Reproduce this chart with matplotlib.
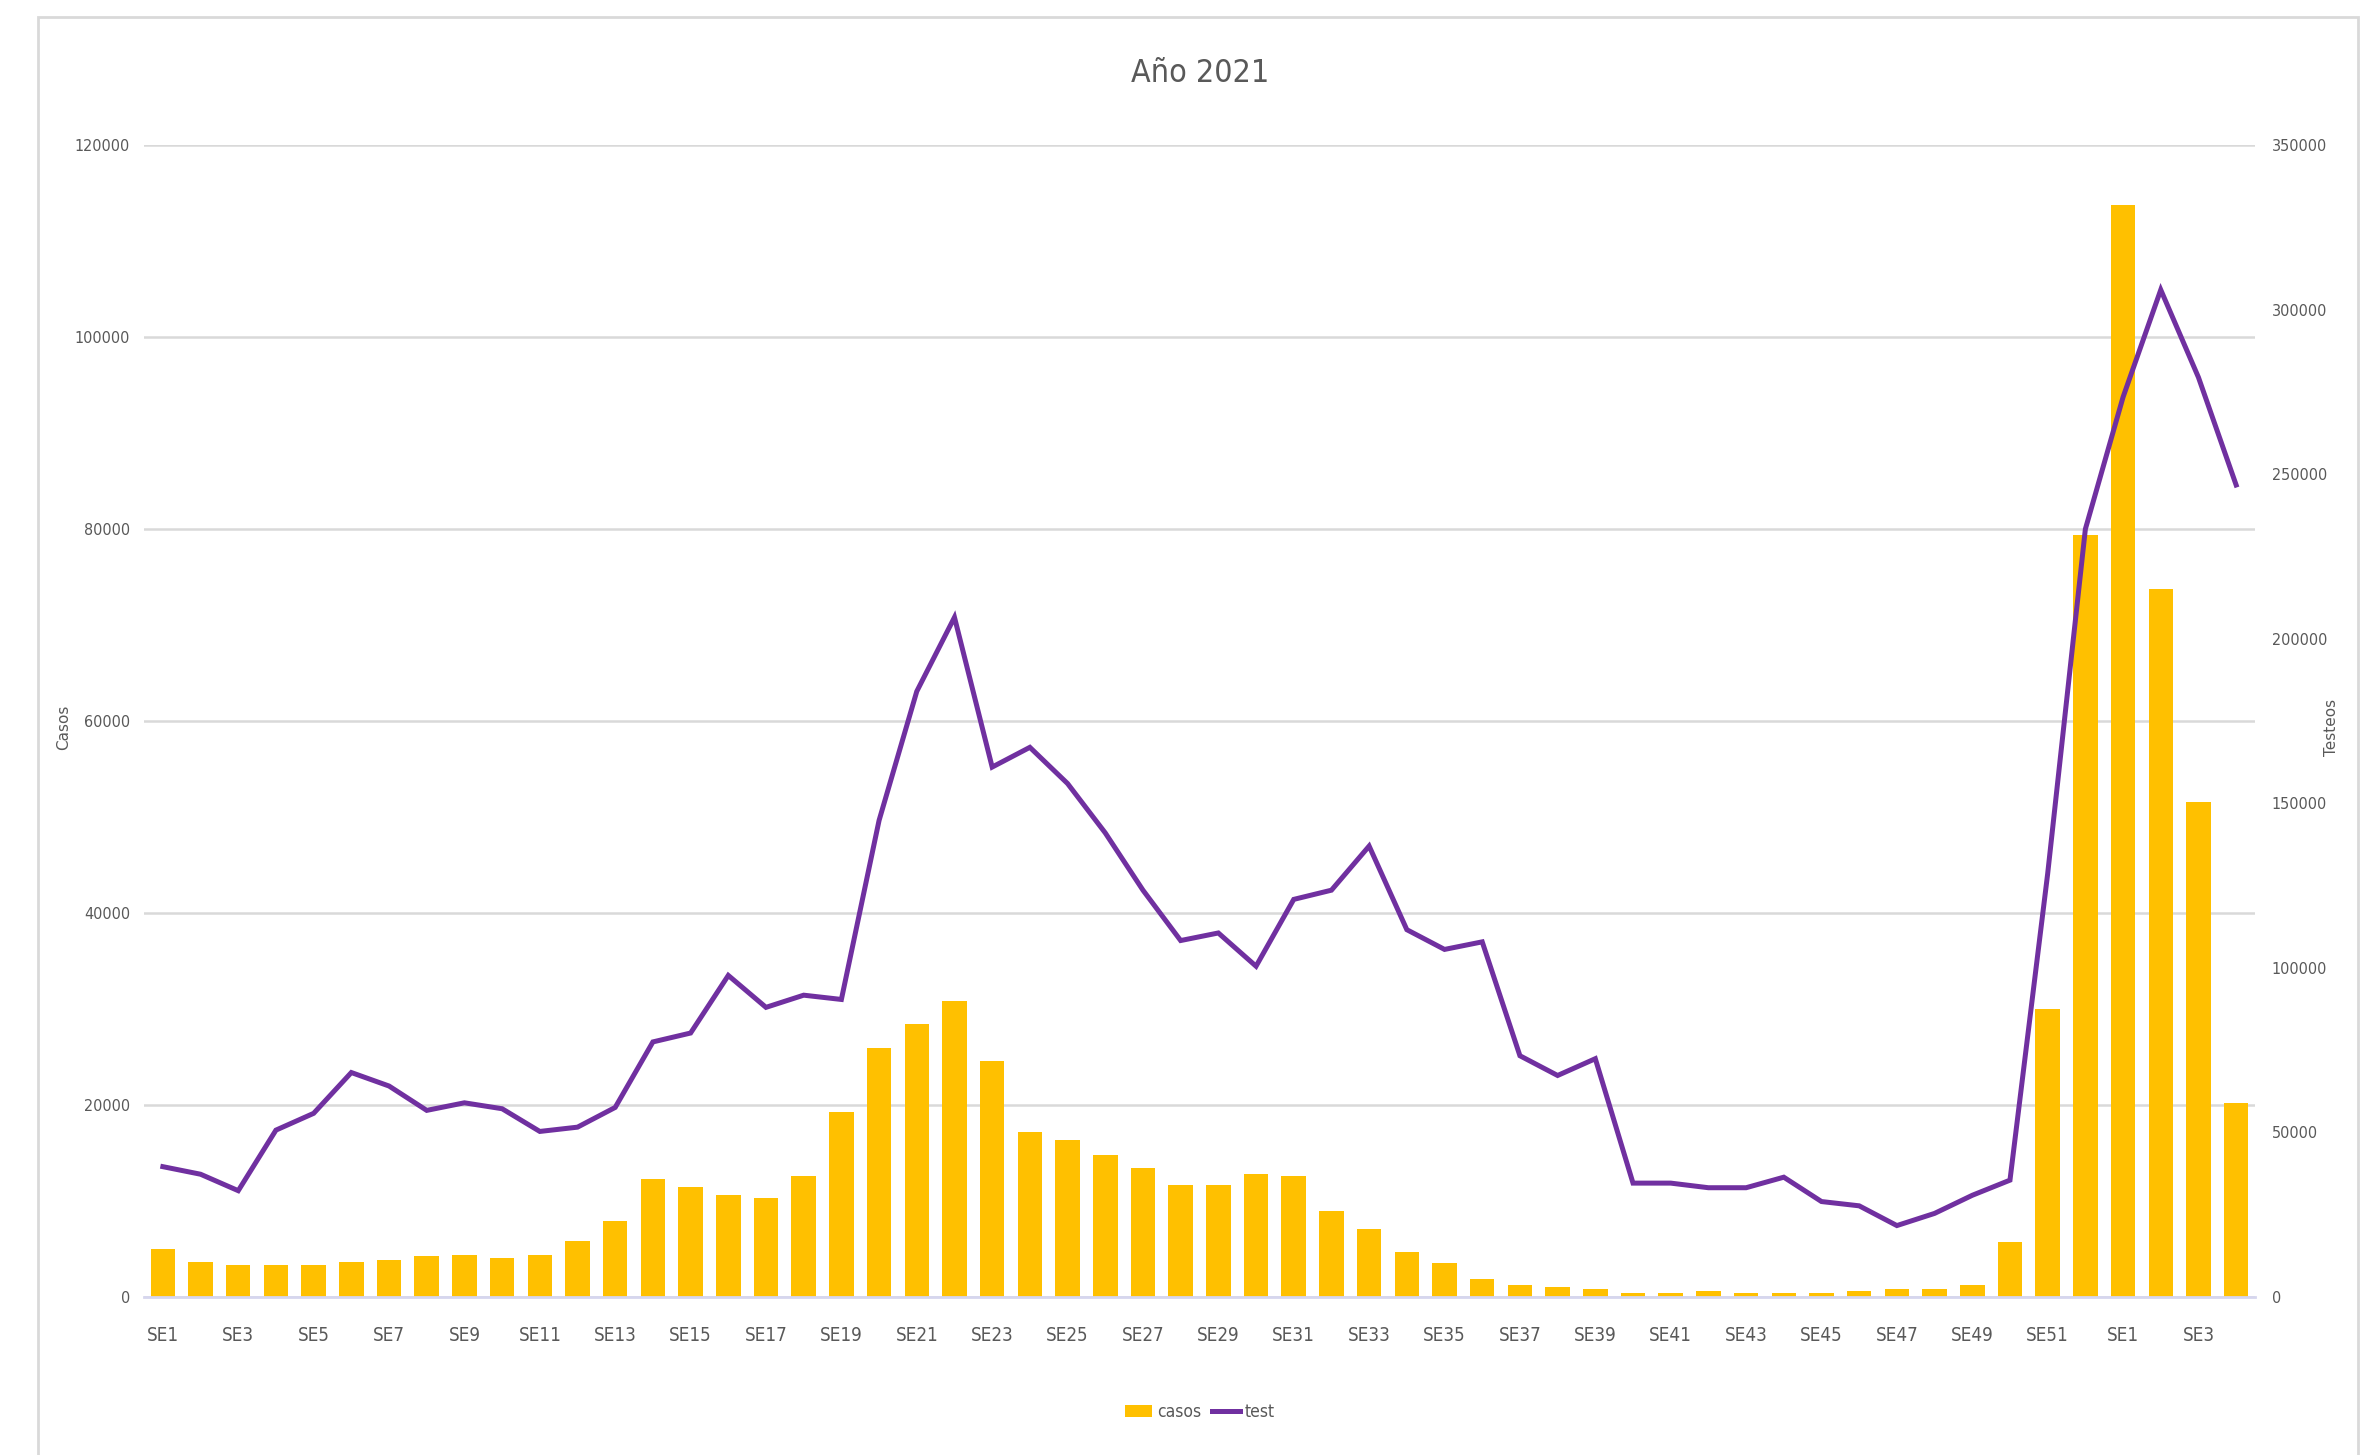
import numpy as np
import matplotlib
matplotlib.use('Agg')
import matplotlib.pyplot as plt
from matplotlib.patches import Rectangle

# Semanas epidemiológicas: SE1..SE52 de 2021 y SE1..SE4 de 2022
semanas = [f"SE{i}" for i in range(1, 53)] + [f"SE{i}" for i in range(1, 5)]

casos = [5000, 3600, 3300, 3300, 3300, 3600, 3900, 4300, 4400, 4100,
         4400, 5800, 7900, 12300, 11500, 10600, 10300, 12600, 19300, 25900,
         28400, 30800, 24600, 17200, 16400, 14800, 13400, 11700, 11700, 12800,
         12600, 9000, 7100, 4700, 3500, 1900, 1200, 1000, 800, 400,
         400, 600, 400, 400, 400, 600, 800, 800, 1200, 5700,
         30000, 79400, 113800, 73700, 51600, 20200]

test = [39600, 37300, 32300, 50700, 55800, 68200, 64100, 56700, 59000, 57200,
        50300, 51600, 57600, 77500, 80200, 97700, 88000, 91700, 90400, 144800,
        184000, 206500, 161000, 167000, 156000, 141000, 123600, 108300, 110600, 100500,
        120800, 123600, 137000, 111600, 105600, 107900, 73300, 67300, 72400, 34600,
        34600, 33200, 33200, 36400, 29000, 27700, 21700, 25400, 30900, 35500,
        128600, 233300, 273400, 306000, 279400, 246700]

casos_ticks = [0, 20000, 40000, 60000, 80000, 100000, 120000]
test_ticks = [0, 50000, 100000, 150000, 200000, 250000, 300000, 350000]

gris = '#595959'
linea = '#D9D9D9'
angosta = dict(family='DejaVu Sans', stretch='condensed')

fig = plt.figure(figsize=(23.76, 14.55), dpi=100)
fig.patch.set_facecolor('white')

# marco del área del gráfico
fig.add_artist(Rectangle((38 / 2376, -0.05), (2358 - 38) / 2376, 1.05 - 17 / 1455,
                         transform=fig.transFigure, fill=False,
                         edgecolor=linea, linewidth=2))

ax = fig.add_axes([144 / 2376, 1 - 1297 / 1455, (2255 - 144) / 2376, (1297 - 145) / 1455])
x = np.arange(len(semanas))
barras = ax.bar(x, casos, width=0.65, color='#FFC000', label='casos', zorder=2)
ax.set_xlim(-0.5, len(semanas) - 0.5)
ax.set_ylim(0, 120000)
ax.set_yticks(casos_ticks)
ax.set_yticklabels([str(t) for t in casos_ticks], fontsize=11.5, color=gris, **angosta)
ax.set_xticks(x[::2])
ax.set_xticklabels(semanas[::2], fontsize=13.5, color=gris, **angosta)
ax.tick_params(axis='both', length=0)
ax.tick_params(axis='y', pad=10)
ax.tick_params(axis='x', pad=21)
ax.grid(axis='y', color=linea, linewidth=1.8, zorder=0)
ax.set_axisbelow(True)
for s in ['top', 'left', 'right']:
    ax.spines[s].set_visible(False)
ax.spines['bottom'].set_color('#D6D6EE')
ax.spines['bottom'].set_linewidth(2)

ax2 = ax.twinx()
(ln,) = ax2.plot(x, test, color='#7030A0', linewidth=3.6, label='test',
                 solid_joinstyle='miter', zorder=3)
ax2.set_ylim(0, 350000)
ax2.set_yticks(test_ticks)
ax2.set_yticklabels([str(t) for t in test_ticks], fontsize=11.5, color=gris, **angosta)
ax2.tick_params(axis='y', length=0, pad=12)
for s in ax2.spines.values():
    s.set_visible(False)

fig.text(0.505, 1 - 73 / 1455, 'Año 2021', ha='center', va='center',
         fontsize=23, color=gris, **angosta)
fig.text(64 / 2376, 1 - 727 / 1455, 'Casos', rotation=90, ha='center', va='center',
         fontsize=11, color=gris)
fig.text(2332 / 2376, 1 - 727 / 1455, 'Testeos', rotation=90, ha='center', va='center',
         fontsize=11, color=gris)

leg = fig.legend([barras, ln], ['casos', 'test'], loc='center',
                 bbox_to_anchor=(0.505, 1 - 1412 / 1455), ncol=2, frameon=False,
                 prop=dict(size=12.5, **angosta), handlelength=1.6,
                 handletextpad=0.3, columnspacing=0.6)
for t in leg.get_texts():
    t.set_color(gris)

fig.savefig('out.png', dpi=100, facecolor='white')
